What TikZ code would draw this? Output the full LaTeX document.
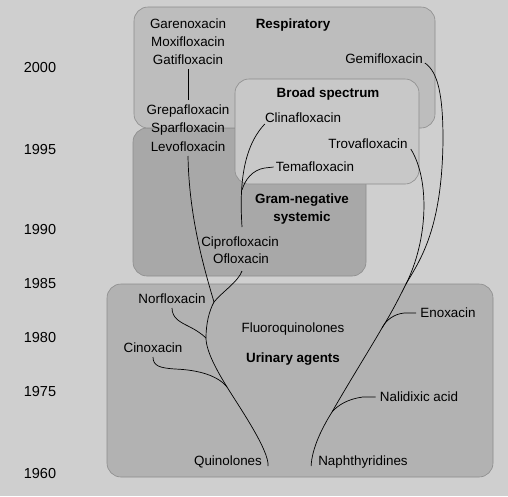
\documentclass[tikz,border=0pt]{standalone}
\usepackage{fontspec}
\setmainfont{Liberation Sans}
\usetikzlibrary{calc}
\definecolor{bgc}{gray}{0.81}
\definecolor{urinc}{gray}{0.70}
\definecolor{gramc}{gray}{0.66}
\definecolor{respc}{gray}{0.74}
\definecolor{broadc}{gray}{0.785}
\definecolor{edgec}{gray}{0.55}
\begin{document}
\begin{tikzpicture}[x=1pt,y=-1pt,
  lbl/.style={font=\fontsize{13.4}{16}\selectfont, text height=9.6pt, text depth=0pt, inner sep=0pt},
  ttl/.style={lbl, font=\fontsize{13.4}{16}\selectfont\bfseries},
  yr/.style={font=\fontsize{14.5}{17}\selectfont, text height=10.4pt, text depth=0pt, inner sep=0pt},
  zone/.style={draw=edgec, line width=0.6pt, rounded corners=14pt},
  link/.style={draw=black, line width=0.7pt}]
\useasboundingbox (0,0) rectangle (508,496);
\fill[bgc] (0,0) rectangle (508,496);
% zones
\path[zone, fill=urinc] (107,284) rectangle (493,477);
\path[zone, fill=gramc] (133,128) rectangle (366,276);
\path[zone, fill=respc] (134,7) rectangle (435,128);
\path[zone, fill=broadc] (235,79) rectangle (419,184);
% years
\node[yr] (y2000) at (40,67) {2000};
\node[yr] (y1995) at (40,149) {1995};
\node[yr] (y1990) at (40,229) {1990};
\node[yr] (y1985) at (40,283) {1985};
\node[yr] (y1980) at (40,337) {1980};
\node[yr] (y1975) at (40,391) {1975};
\node[yr] (y1960) at (40,473) {1960};
% titles
\node[ttl] (resp) at (293,24) {Respiratory};
\node[ttl] (broad) at (328,93) {Broad spectrum};
\node[ttl] (gram1) at (302,199) {Gram-negative};
\node[ttl] (gram2) at (302,217) {systemic};
\node[lbl] (fluoro) at (293,328) {Fluoroquinolones};
\node[ttl] (urin) at (293,358) {Urinary agents};
% drugs
\node[lbl] (gare) at (188,24) {Garenoxacin};
\node[lbl] (moxi) at (188,42) {Moxifloxacin};
\node[lbl] (gati) at (188,60) {Gatifloxacin};
\node[lbl] (gemi) at (384,59) {Gemifloxacin};
\node[lbl] (grepa) at (188,110) {Grepafloxacin};
\node[lbl] (spar) at (188,128) {Sparfloxacin};
\node[lbl] (levo) at (188,147) {Levofloxacin};
\node[lbl] (clina) at (303,118) {Clinafloxacin};
\node[lbl] (trova) at (368,144) {Trovafloxacin};
\node[lbl] (tema) at (315,167) {Temafloxacin};
\node[lbl] (cipro) at (240,242) {Ciprofloxacin};
\node[lbl] (oflo) at (241,259) {Ofloxacin};
\node[lbl] (norf) at (172,299) {Norfloxacin};
\node[lbl] (cino) at (153,348) {Cinoxacin};
\node[lbl] (enox) at (448,313) {Enoxacin};
\node[lbl] (nali) at (419,397) {Nalidixic acid};
\node[lbl] (quin) at (228,461) {Quinolones};
\node[lbl] (naph) at (363,461) {Naphthyridines};
% junctions
\coordinate (jCino) at (227,387);
\coordinate (jNorf) at (206,338);
\coordinate (jSplit) at (214,302);
\coordinate (jTema) at (242,190);
\coordinate (jNal) at (332,412);
\coordinate (jEno) at (382,328);
\coordinate (jTop) at (406,284);
% connectors
\draw[link] ($(gati.center)+(0,9)$) -- ($(grepa.center)+(0,-10)$);
\draw[link] ($(quin.east)+(6,5)$) .. controls (269,450) and (240,408) .. (jCino)
  .. controls (219,374) and (206,352) .. (jNorf)
  .. controls (206,324) and (209,311) .. (jSplit);
\draw[link] (jSplit) .. controls (203,265) and (189,215) .. ($(levo.center)+(0,9)$);
\draw[link] (jSplit) .. controls (222,292) and (238,282) .. ($(oflo.center)+(1,12)$);
\draw[link] ($(cipro.center)+(2,-15)$) .. controls (240,195) and (240,150) .. ($(clina.west)+(0,6)$);
\draw[link] ($(tema.west)+(-2,0)$) -- ++(-9,1) .. controls (252,170) and (245,180) .. (jTema);
\draw[link] ($(cino.center)+(0,9)$) .. controls (153,366) and (160,368) .. (175,369)
  .. controls (200,370) and (218,376) .. (jCino);
\draw[link] ($(norf.center)+(0,9)$) .. controls (172,318) and (180,322) .. (188,326)
  .. controls (196,330) and (202,334) .. (jNorf);
\draw[link] ($(naph.west)+(-7,5)$) .. controls (312,448) and (322,428) .. (jNal)
  .. controls (348,384) and (368,352) .. (jEno)
  .. controls (392,312) and (400,296) .. (jTop);
\draw[link] (jTop) .. controls (428,240) and (430,180) .. ($(trova.east)+(3,5)$);
\draw[link] (jTop) .. controls (420,260) and (442,230) .. (443,140)
  .. controls (443,95) and (438,72) .. ($(gemi.east)+(2,4)$);
\draw[link] ($(enox.west)+(-4,0)$) -- ++(-12,0) .. controls (394,314) and (386,320) .. (jEno);
\draw[link] ($(nali.west)+(-4,0)$) -- ++(-13,0) .. controls (348,399) and (338,405) .. (jNal);
\end{tikzpicture}
\end{document}
